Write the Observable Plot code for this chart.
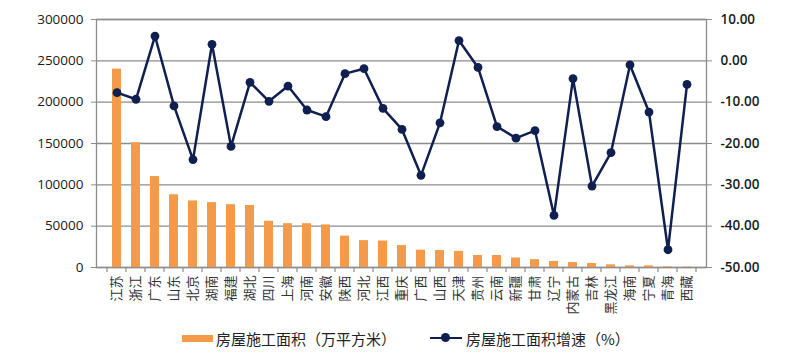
<!DOCTYPE html>
<html>
<head>
<meta charset="utf-8">
<script src="https://cdn.jsdelivr.net/npm/d3@7"></script>
<script src="https://cdn.jsdelivr.net/npm/@observablehq/plot@0.6"></script>
<style>
  body { margin: 0; background: #fff; }
  #legend { display: flex; align-items: center; height: 22px; margin-top: 3px; padding-left: 182px;
    font-family: "Noto Sans CJK SC", sans-serif; font-size: 15px; color: #222; }
  .sw { display: inline-block; width: 31px; height: 7px; background: #F39B4A; margin-right: 3px; }
  .ln { position: relative; display: inline-block; width: 32px; height: 2.5px; background: #0F1F4F; margin-left: 34px; margin-right: 4px; }
  .ln::after { content: ""; position: absolute; left: 11px; top: -3.5px; width: 9px; height: 9px; border-radius: 50%; background: #0F1F4F; }
</style>
</head>
<body>
<div id="chart"></div>
<div id="legend"><span class="sw"></span><span>房屋施工面积（万平方米）</span><span class="ln"></span><span>房屋施工面积增速（%）</span></div>
<script>
const categories = ["江苏","浙江","广东","山东","北京","湖南","福建","湖北","四川","上海","河南","安徽","陕西","河北","江西","重庆","广西","山西","天津","贵州","云南","新疆","甘肃","辽宁","内蒙古","吉林","黑龙江","海南","宁夏","青海","西藏"];
const area = [240000,151000,110000,88000,80500,78500,76000,75000,56000,53000,53000,51500,38000,32500,32000,26500,21000,20500,19500,14500,14500,11500,9500,7300,6000,4800,3200,2000,2000,800,500];
const growth = [-7.7,-9.3,6.0,-10.9,-23.9,4.0,-20.7,-5.2,-9.8,-6.1,-11.9,-13.5,-3.1,-1.9,-11.5,-16.6,-27.7,-15.0,4.9,-1.6,-15.9,-18.7,-16.9,-37.4,-4.3,-30.3,-22.2,-1.0,-12.4,-45.7,-5.7];
const leftTicks = [0,50000,100000,150000,200000,250000,300000];
const rightTicks = [-50,-40,-30,-20,-10,0,10];

// map right-axis (%) values onto the left scale domain
const toLeft = v => (v + 50) * 5000;
const fromLeft = y => y / 5000 - 50;

const data = categories.map((c, i) => ({cat: c, area: area[i], growth: growth[i]}));

const chart = Plot.plot({
  width: 800,
  height: 324,
  marginTop: 19,
  marginBottom: 57,
  marginLeft: 96,
  marginRight: 94,
  style: {fontFamily: "'Open Sans', sans-serif", background: "#fff"},
  x: {domain: categories, padding: 0.53, axis: null, label: null},
  y: {domain: [0, 300000], axis: null, label: null},
  marks: [
    Plot.ruleY(leftTicks, {stroke: "#8c8c8c", strokeWidth: 1.3}),
    Plot.frame({stroke: "#8c8c8c", strokeWidth: 1.3}),
    Plot.barY(data, {x: "cat", y: "area", fill: "#F39B4A"}),
    Plot.line(data, {x: "cat", y: d => toLeft(d.growth), stroke: "#0F1F4F", strokeWidth: 2.5}),
    Plot.dot(data, {x: "cat", y: d => toLeft(d.growth), r: 4.4, fill: "#0F1F4F", stroke: "none"}),
    Plot.axisY(leftTicks, {anchor: "left", label: null, tickSize: 5, tickPadding: 8, tickFormat: d => String(d),
      fontSize: 13.5, stroke: "#8c8c8c", fill: "#1a1a1a"}),
    Plot.axisY(rightTicks.map(toLeft), {anchor: "right", label: null, tickSize: 5, tickPadding: 9,
      tickFormat: d => fromLeft(d).toFixed(2), fontSize: 13.5, fontWeight: 600, stroke: "#8c8c8c", fill: "#1a1a1a"}),
    Plot.axisX({label: null, tickSize: 0, tickPadding: 8, tickRotate: -90, fontSize: 13,
      fontFamily: "'Noto Sans CJK SC', sans-serif", fill: "#333"})
  ]
});

// band-boundary tick marks below the x axis (Excel style), positioned from the x scale
const xs = chart.scale("x");
const ys = chart.scale("y");
const y0 = ys.apply(0);
const g = d3.select(chart).append("g").attr("stroke", "#8c8c8c").attr("stroke-width", 1.2);
const step = xs.step;
categories.forEach((c) => {
  const left = xs.apply(c) + xs.bandwidth / 2 - step / 2;
  g.append("line").attr("x1", left).attr("x2", left).attr("y1", y0).attr("y2", y0 + 5);
});
const lastX = xs.apply(categories[categories.length - 1]) + xs.bandwidth / 2 + step / 2;
g.append("line").attr("x1", lastX).attr("x2", lastX).attr("y1", y0).attr("y2", y0 + 5);

document.getElementById("chart").appendChild(chart);
</script>
</body>
</html>
